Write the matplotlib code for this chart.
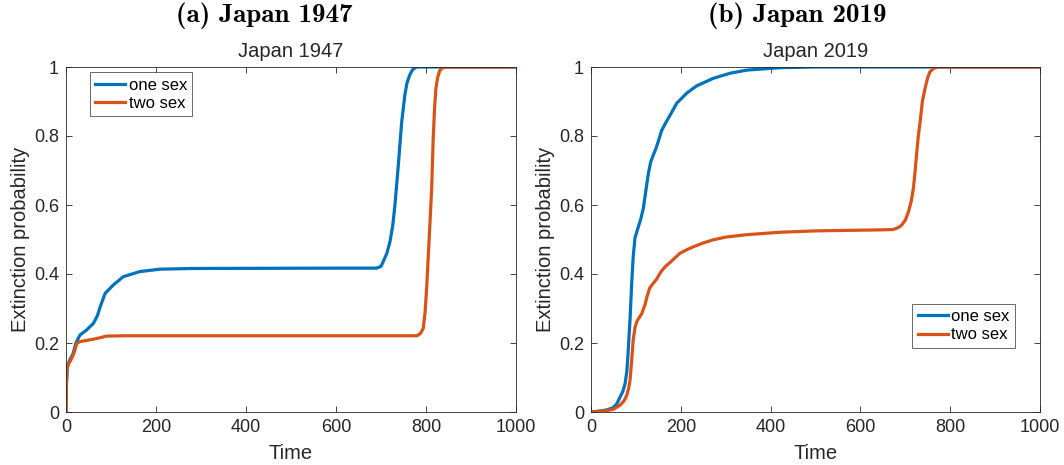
import matplotlib
matplotlib.use("Agg")
import matplotlib.pyplot as plt

# ---------------- data ----------------
t_a_one = [0, 1, 3, 8, 16, 22, 31, 46, 61, 70, 76, 87, 105, 127, 164, 209, 283, 600, 690,
           700, 705, 713, 720, 726, 731, 738.5, 746, 753, 758, 764, 770, 779, 1000]
y_a_one = [0, 0.08, 0.13, 0.15, 0.17, 0.2, 0.223, 0.238, 0.257, 0.28, 0.305, 0.344, 0.368,
           0.392, 0.407, 0.414, 0.416, 0.417, 0.417, 0.422, 0.436, 0.46, 0.494, 0.54, 0.60,
           0.716, 0.841, 0.919, 0.955, 0.977, 0.992, 1.0, 1.0]

t_a_two = [0, 0.5, 1, 2, 5, 9, 16, 20, 24, 31, 61, 75, 90, 135, 780, 788, 794, 798, 801.5,
           805, 809, 812.6, 816, 819, 822, 826, 831, 838, 846, 1000]
y_a_two = [0, 0.05, 0.09, 0.12, 0.14, 0.146, 0.165, 0.18, 0.199, 0.204, 0.211, 0.215, 0.22,
           0.221, 0.221, 0.228, 0.243, 0.29, 0.36, 0.45, 0.552, 0.648, 0.793, 0.88, 0.938,
           0.97, 0.991, 0.998, 1.0, 1.0]

t_b_one = [0, 15, 35, 50, 58, 65, 71, 76, 80, 83, 87, 90.6, 94, 98, 105, 111, 116.5, 122,
           127.6, 133, 138.8, 145, 150, 157, 165, 176, 191, 213, 235, 272, 310, 347, 421,
           500, 1000]
y_b_one = [0, 0.002, 0.006, 0.013, 0.025, 0.044, 0.06, 0.083, 0.12, 0.18, 0.27, 0.373, 0.45,
           0.505, 0.535, 0.56, 0.59, 0.64, 0.69, 0.725, 0.745, 0.765, 0.785, 0.815, 0.835,
           0.86, 0.895, 0.924, 0.945, 0.967, 0.982, 0.991, 0.998, 1.0, 1.0]

t_b_two = [0, 35, 50, 65, 75, 80, 84, 87, 90, 94, 98, 102, 108, 113, 120, 126, 131, 138, 146,
           155, 165, 175, 183, 198, 213, 228, 250, 272, 300, 347, 421, 500, 650, 673, 685,
           692, 700, 707, 713, 718, 722, 725, 729, 733, 738, 744, 750, 755, 763, 773, 1000]
y_b_two = [0, 0.004, 0.008, 0.02, 0.035, 0.05, 0.07, 0.093, 0.14, 0.209, 0.245, 0.262, 0.275,
           0.285, 0.31, 0.34, 0.36, 0.372, 0.385, 0.405, 0.421, 0.432, 0.442, 0.46, 0.47,
           0.479, 0.49, 0.499, 0.507, 0.514, 0.521, 0.525, 0.528, 0.529, 0.535, 0.542, 0.556,
           0.58, 0.61, 0.648, 0.7, 0.745, 0.8, 0.841, 0.9, 0.938, 0.97, 0.986, 0.996, 1.0, 1.0]

series_labels = ["one sex", "two sex"]
x_ticks = [0, 200, 400, 600, 800, 1000]
y_ticks = [0, 0.2, 0.4, 0.6, 0.8, 1]
y_tick_labels = ["0", "0.2", "0.4", "0.6", "0.8", "1"]
panel_titles = ["Japan 1947", "Japan 2019"]
super_titles = ["(a) Japan 1947", "(b) Japan 2019"]

# ---------------- style ----------------
plt.rcParams['font.family'] = ['Liberation Sans', 'DejaVu Sans']
BLUE = '#0072BD'
ORANGE = '#D95319'
AXC = '#262626'

fig = plt.figure(figsize=(10.64, 4.65), dpi=100)
W, H = 1064, 465
ax_a = fig.add_axes([66 / W, (H - 412) / H, 450 / W, 345 / H])
ax_b = fig.add_axes([591 / W, (H - 412) / H, 449 / W, 345 / H])

data = [((t_a_one, y_a_one), (t_a_two, y_a_two)), ((t_b_one, y_b_one), (t_b_two, y_b_two))]
legend_pos = [dict(loc='upper left', bbox_to_anchor=(0.053, 0.985)),
              dict(loc='lower right', bbox_to_anchor=(0.944, 0.186))]
super_x = [264 / W, 797 / W]

for i, ax in enumerate([ax_a, ax_b]):
    (t1, y1), (t2, y2) = data[i]
    ax.plot(t1, y1, color=BLUE, lw=2.3, label=series_labels[0], solid_joinstyle='round')
    ax.plot(t2, y2, color=ORANGE, lw=2.3, label=series_labels[1], solid_joinstyle='round')
    ax.set_xlim(0, 1000)
    ax.set_ylim(0, 1)
    ax.set_xticks(x_ticks)
    ax.set_yticks(y_ticks)
    ax.set_yticklabels(y_tick_labels)
    ax.tick_params(direction='in', top=True, right=True, length=4, width=0.6,
                   colors=AXC, labelsize=13, pad=5)
    for s in ax.spines.values():
        s.set_color(AXC)
        s.set_linewidth(0.6)
    ax.set_xlabel("Time", fontsize=14.5, color=AXC, labelpad=6)
    ax.set_ylabel("Extinction probability", fontsize=14.5, color=AXC, labelpad=3)
    ax.set_title(panel_titles[i], fontsize=14.5, color=AXC, pad=7)
    leg = ax.legend(fontsize=12, frameon=True, fancybox=False, edgecolor=AXC,
                    handlelength=1.8, handletextpad=0.2, labelspacing=0.2,
                    borderpad=0.32, borderaxespad=0, **legend_pos[i])
    leg.get_frame().set_linewidth(0.6)
    # super title above each panel
    fig.text(super_x[i], 1 - 16 / H, super_titles[i], ha='center', va='center', fontsize=19.5,
             family=['cmb10', 'DejaVu Serif'])

fig.savefig("out.png", dpi=100)
